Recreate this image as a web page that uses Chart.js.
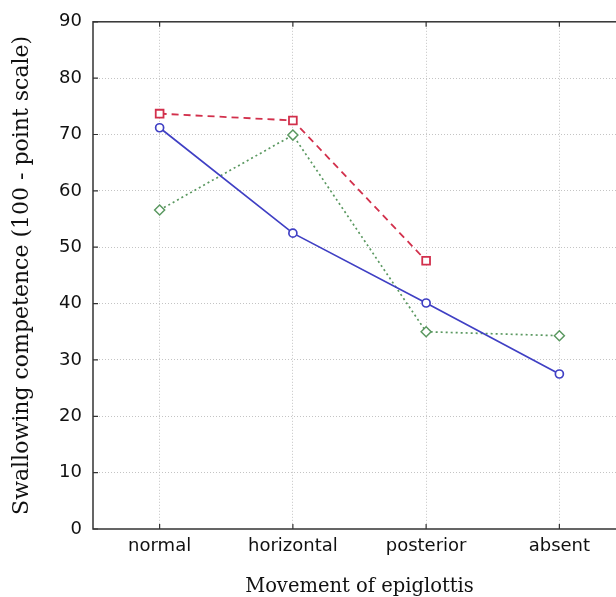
<!DOCTYPE html>
<html><head><meta charset="utf-8">
<script src="https://cdn.jsdelivr.net/npm/chart.js@4/dist/chart.umd.min.js"></script>
<style>
html,body{margin:0;padding:0;background:#fff;overflow:hidden;width:616px;height:597px}
#wrap{position:absolute;left:0;top:0;width:640px;height:597px}
</style>
</head><body><div id="wrap"><canvas id="c" width="640" height="597"></canvas></div>
<script>
const categories = ['normal', 'horizontal', 'posterior', 'absent'];
const seriesRed = [73.7, 72.5, 47.6, null];
const seriesBlue = [71.2, 52.5, 40.1, 27.5];
const seriesGreen = [56.6, 69.9, 35.0, 34.3];
const yTickValues = [0, 10, 20, 30, 40, 50, 60, 70, 80, 90];
const xTitle = 'Movement of epiglottis';
const yTitle = 'Swallowing competence (100 - point scale)';

const framePlugin = {
  id: 'frame',
  beforeDatasetsDraw(chart) {
    const {ctx, chartArea: a, scales} = chart;
    ctx.save();
    ctx.strokeStyle = '#333';
    ctx.lineWidth = 1.5;
    ctx.strokeRect(a.left, a.top, a.right - a.left, a.bottom - a.top);
    ctx.lineWidth = 1.2;
    ctx.beginPath();
    categories.forEach((c, i) => {
      const x = scales.x.getPixelForValue(i);
      ctx.moveTo(x, a.bottom); ctx.lineTo(x, a.bottom - 5);
      ctx.moveTo(x, a.top); ctx.lineTo(x, a.top + 5);
    });
    yTickValues.forEach(v => {
      const y = scales.y.getPixelForValue(v);
      ctx.moveTo(a.left, y); ctx.lineTo(a.left + 5, y);
      ctx.moveTo(a.right, y); ctx.lineTo(a.right - 5, y);
    });
    ctx.stroke();
    ctx.restore();
  }
};

new Chart(document.getElementById('c'), {
  type: 'line',
  data: {
    labels: categories,
    datasets: [
      {data: seriesRed, borderColor: '#d2304c', borderWidth: 1.8, borderDash: [7, 5],
       pointStyle: 'rect', pointRadius: 5.5, pointBorderWidth: 1.8, pointBackgroundColor: '#fff', pointBorderColor: '#d2304c', tension: 0},
      {data: seriesBlue, borderColor: '#4040c4', borderWidth: 1.7,
       pointStyle: 'circle', pointRadius: 4, pointBorderWidth: 1.7, pointBackgroundColor: '#fff', pointBorderColor: '#4040c4', tension: 0},
      {data: seriesGreen, borderColor: '#5a9860', borderWidth: 1.7, borderDash: [2, 3],
       pointStyle: 'rectRot', pointRadius: 5, pointBorderWidth: 1.5, pointBackgroundColor: '#fff', pointBorderColor: '#5a9860', tension: 0}
    ]
  },
  options: {
    responsive: false,
    devicePixelRatio: 1,
    animation: false,
    layout: {padding: {top: 20, right: 14, left: 0, bottom: 0}},
    plugins: {legend: {display: false}, tooltip: {enabled: false}},
    scales: {
      x: {
        offset: true,
        grid: {offset: false, color: '#c4c4c4', drawTicks: false},
        border: {display: false, dash: [1, 2]},
        ticks: {color: '#111', font: {family: 'DejaVu Sans', size: 18}, padding: 7},
        title: {display: true, text: xTitle, color: '#111', font: {family: 'DejaVu Serif', size: 19.5, lineHeight: 1}, padding: {top: 0, bottom: 0}},
        afterFit(s) { s.height = 68; }
      },
      y: {
        min: 0, max: 90,
        afterBuildTicks(s) { s.ticks = yTickValues.map(v => ({value: v})); },
        grid: {color: c => c.tick && (c.tick.value === 0 || c.tick.value === 90) ? 'rgba(0,0,0,0)' : '#c4c4c4', drawTicks: false},
        border: {display: false, dash: [1, 2]},
        ticks: {color: '#111', font: {family: 'DejaVu Sans', size: 18}, padding: 11},
        title: {display: true, text: yTitle, color: '#111', font: {family: 'DejaVu Serif', size: 22, lineHeight: 1}, padding: {top: 11, bottom: 0}},
        afterFit(s) { s.width = 93; }
      }
    }
  },
  plugins: [framePlugin]
});
</script>
</body></html>
